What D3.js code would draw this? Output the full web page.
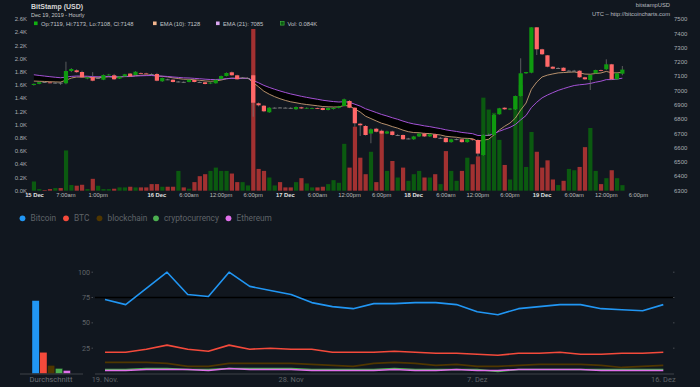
<!DOCTYPE html>
<html><head><meta charset="utf-8">
<script src="https://cdn.jsdelivr.net/npm/d3@7"></script>
<style>html,body{margin:0;padding:0;background:#11171f;} svg{display:block}</style>
</head><body>
<svg id="c" width="700" height="387"></svg>
<script>
// ---------- candle data (hourly, first candle = 15 Dec 01:00 UTC) ----------
const firstHour = 1;
const opens  = [7040,7048,7060,7058,7055,7056,7052,7138,7143,7131,7085,7096,7088,7077,7110,7108,7085,7100,7120,7110,7124,7121,7117,7117,7066,7079,7077,7062,7062,7061,7075,7060,7059,7050,7052,7082,7103,7129,7108,7090,7087,7108,6912,6895,6849,6879,6882,6881,6880,6870,6884,6876,6876,6879,6879,6865,6872,6880,6893,6928,6881,6769,6753,6700,6734,6720,6700,6715,6690,6690,6664,6660,6680,6700,6680,6695,6670,6670,6640,6660,6660,6640,6660,6655,6550,6690,6690,6835,6881,6868,6870,6963,7122,7126,7444,7290,7248,7168,7158,7161,7140,7140,7140,7094,7075,7122,7145,7150,7185,7080,7119];
const highs  = [7050,7062,7064,7060,7060,7062,7203,7158,7150,7140,7098,7130,7094,7114,7118,7118,7102,7118,7124,7136,7128,7126,7122,7125,7092,7084,7080,7068,7065,7080,7080,7064,7062,7060,7080,7106,7128,7134,7112,7096,7092,7112,6918,6900,6885,6884,6886,6885,6884,6890,6888,6884,6882,6882,6884,6882,6884,6894,6945,6935,6885,6775,6760,6736,6740,6728,6720,6720,6696,6694,6670,6684,6704,6706,6698,6700,6676,6674,6664,6666,6664,6664,6662,6660,6694,6700,6836,6880,6884,6878,6966,7227,7132,7444,7444,7294,7250,7172,7164,7164,7146,7146,7144,7098,7112,7147,7148,7220,7188,7124,7173];
const lows   = [7036,7045,7055,7052,7050,7040,7045,7130,7125,7090,7080,7066,7082,7074,7106,7076,7082,7096,7098,7108,7118,7116,7112,7066,7062,7074,7058,7058,7056,7058,7058,7055,7044,7046,7050,7080,7100,7105,7078,7085,7083,6818,6890,6850,6845,6876,6878,6877,6876,6866,6872,6872,6872,6872,6862,6862,6868,6876,6890,6878,6748,6683,6686,6632,6708,6696,6696,6686,6684,6656,6660,6656,6676,6676,6676,6666,6664,6636,6636,6654,6636,6636,6650,6540,6546,6686,6686,6832,6866,6864,6866,6960,7118,7122,7250,7250,7164,7150,7154,7136,7136,7136,7090,7076,7005,7118,7136,7146,7078,7078,7108];
const closes = [7048,7060,7058,7055,7056,7054,7138,7152,7130,7094,7094,7070,7090,7110,7113,7080,7100,7115,7100,7133,7121,7117,7115,7070,7089,7077,7061,7064,7060,7077,7061,7059,7047,7057,7077,7103,7124,7108,7080,7092,7089,6916,6898,6856,6881,6881,6880,6879,6878,6886,6876,6880,6879,6875,6865,6879,6880,6890,6940,6881,6772,6758,6690,6730,6713,6700,6715,6690,6690,6660,6665,6680,6700,6680,6695,6670,6670,6640,6660,6660,6640,6660,6655,6560,6690,6690,6830,6877,6870,6875,6963,7122,7131,7444,7290,7255,7168,7154,7158,7138,7140,7140,7094,7080,7110,7145,7140,7185,7080,7122,7148];
const volumes= [0.14,0.025,0.01,0.025,0.04,0.04,0.61,0.086,0.076,0.09,0.025,0.18,0.075,0.025,0.025,0.03,0.05,0.05,0.06,0.05,0.05,0.05,0.1,0.1,0.06,0.06,0.06,0.3,0.05,0.03,0.13,0.22,0.25,0.3,0.35,0.3,0.3,0.26,0.13,0.13,0.08,2.45,0.33,0.3,0.2,0.08,0.13,0.05,0.05,0.13,0.19,0.11,0.05,0.05,0.06,0.1,0.16,0.12,0.71,0.35,0.97,0.5,0.25,0.59,0.13,0.9,0.3,0.45,0.2,0.35,0.15,0.25,0.3,0.2,0.2,0.25,0.1,0.6,0.3,0.15,0.3,0.5,0.4,0.52,1.41,1.23,1.18,0.77,0.39,0.17,1.43,1.6,0.36,0.89,0.59,0.35,0.46,0.17,0.086,0.15,0.33,0.31,0.36,0.66,0.95,0.3,0.1,0.19,0.31,0.19,0.084];
const ema10Seed = 7072, ema21Seed = 7118;
const emaLegend = [7128, 7085];
const priceTicks = [6300,6400,6500,6600,6700,6800,6900,7000,7100,7200,7300,7400,7500];
const volTicks = [0,0.2,0.4,0.6,0.8,1.0,1.2,1.4,1.6,1.8,2.0,2.2,2.4,2.6];
const timeTicks = [[0,"15 Dec",1],[7,"7:00am",0],[13,"1:00pm",0],[24,"16 Dec",1],[30,"6:00am",0],[36,"12:00pm",0],[42,"6:00pm",0],[48,"17 Dec",1],[54,"6:00am",0],[60,"12:00pm",0],[66,"6:00pm",0],[72,"18 Dec",1],[78,"6:00am",0],[84,"12:00pm",0],[90,"6:00pm",0],[96,"19 Dec",1],[102,"6:00am",0],[108,"12:00pm",0],[114,"6:00pm",0]];

// ---------- Google-Trends data ----------
const trendStart = "2019-11-19";
const seriesNames = ["Bitcoin","BTC","blockchain","cryptocurrency","Ethereum"];
const seriesColors = ["#2196f3","#f44a3b","#4f3600","#4caf50","#e070ea"];
const bitcoin = [73,68,84,100,78,76,100,86,82,78,70,66,64,69,69,70,70,68,61,58,64,66,68,68,64,63,62,68];
const btc = [21,21,24,28,24,22,28,24,25,24,24,21,21,21,22,21,20,20,19,18,20,20,21,19,19,20,20,21];
const blockchain = [11,11,11,10,7,7,10,10,10,10,9,8,7,10,11,10,8,9,7,7,8,9,9,9,8,6,7,8];
const cryptocurrency = [4,4,5,5,4,4,5,5,5,5,4,4,4,4,5,4,4,4,4,2,4,4,4,4,4,4,4,4];
const ethereum = [3,3,4,4,4,3,5,4,4,4,3,3,3,3,4,3,3,4,3,3,4,4,4,4,3,3,3,3];
const averages = [72,21,8,5,3];
const trendTicks = [25,50,75,100];
const trendDateTicks = [["2019-11-19","19. Nov."],["2019-11-28","28. Nov"],["2019-12-07","7. Dez"],["2019-12-16","16. Dez"]];

const svg = d3.select("#c");
svg.append("rect").attr("width",700).attr("height",387).attr("fill","#11171f");
const F = "'Liberation Sans', Arial, sans-serif";

// ---------- top chart ----------
const x = d3.scaleLinear().domain([0,114]).range([28.5, 28.5+114*5.35]);
const yP = d3.scaleLinear().domain([6300,7500]).range([190.7,19.3]);
const yV = d3.scaleLinear().domain([0,2.6]).range([190.7,19.1]);
const candles = opens.map((o,i)=>({h:firstHour+i,o,h2:highs[i],l:lows[i],c:closes[i],v:volumes[i]}));
// EMA (derived from closes)
let e10=ema10Seed,e21=ema21Seed;
candles.forEach(d=>{e10=e10+(d.c-e10)*2/11; e21=e21+(d.c-e21)*2/22; d.e10=e10; d.e21=e21;});

const gTop = svg.append("g");
gTop.selectAll("rect.vol").data(candles).join("rect")
  .attr("x",d=>x(d.h)-2).attr("width",4.2)
  .attr("y",d=>yV(d.v)).attr("height",d=>yV(0)-yV(d.v))
  .attr("fill",d=>d.c>=d.o?"#0b5a10":"#a23131");
gTop.append("path").datum(candles)
  .attr("d",d3.area().x(d=>x(d.h)).y0(d=>yP(d.e10)).y1(d=>yP(d.e10<d.e21?d.e21:d.e10)))
  .attr("fill","#000").attr("opacity",0.9);
gTop.append("path").datum(candles).attr("fill","none").attr("stroke","#c79d74").attr("stroke-width",0.9)
  .attr("d",d3.line().x(d=>x(d.h)).y(d=>yP(d.e10)));
gTop.append("path").datum(candles).attr("fill","none").attr("stroke","#a452d6").attr("stroke-width",1)
  .attr("d",d3.line().x(d=>x(d.h)).y(d=>yP(d.e21)));
gTop.selectAll("line.wick").data(candles).join("line")
  .attr("x1",d=>x(d.h)).attr("x2",d=>x(d.h))
  .attr("y1",d=>yP(d.h2)).attr("y2",d=>yP(d.l))
  .attr("stroke","#7a7a7a").attr("stroke-width",0.7);
gTop.selectAll("rect.body").data(candles).join("rect")
  .attr("x",d=>x(d.h)-2.1).attr("width",4.2)
  .attr("y",d=>yP(Math.max(d.o,d.c)))
  .attr("height",d=>Math.max(0.8,Math.abs(yP(d.o)-yP(d.c))))
  .attr("fill",d=>Math.abs(d.o-d.c)<3?"#8a8a8a":(d.c>=d.o?"#0f9a0f":"#ff6868"));

gTop.selectAll("text.vt").data(volTicks).join("text")
  .attr("x",27).attr("y",d=>yV(d)+2).attr("text-anchor","end")
  .attr("font-family",F).attr("font-size",6).attr("fill","#a9adb2")
  .text(d=>d.toFixed(1)+"K");
gTop.selectAll("text.pt").data(priceTicks).join("text")
  .attr("x",674).attr("y",d=>yP(d)+2).attr("text-anchor","start")
  .attr("font-family",F).attr("font-size",6).attr("fill","#a9adb2")
  .text(d=>d);
gTop.selectAll("text.tt").data(timeTicks).join("text")
  .attr("x",d=>Math.max(x(d[0]),34.5)).attr("y",197).attr("text-anchor","middle")
  .attr("font-family",F).attr("font-size",5.8).attr("font-weight",d=>d[2]?"bold":"normal")
  .attr("fill",d=>d[2]?"#e0e0e0":"#bbbbbb").text(d=>d[1]);

const last = candles[candles.length-1];
gTop.append("text").attr("x",31).attr("y",9).attr("font-family",F).attr("font-size",7).attr("font-weight","bold").attr("fill","#d5d5d5").text("BitStamp (USD)");
gTop.append("text").attr("x",31).attr("y",17).attr("font-family",F).attr("font-size",5.5).attr("fill","#c8c8c8").text("Dec 19, 2019 - Hourly");
const leg = [
  {x:34, fill:"#11b011", stroke:"none", t:`Op:${last.o}, Hi:${last.h2}, Lo:${last.l}, Cl:${last.c}`},
  {x:153, fill:"#f2b58e", stroke:"none", t:`EMA (10): ${emaLegend[0]}`},
  {x:216, fill:"#dba6f0", stroke:"none", t:`EMA (21): ${emaLegend[1]}`},
  {x:280.5, fill:"#0b5a10", stroke:"#3fbf3f", t:`Vol: ${last.v.toFixed(3)}K`}
];
leg.forEach(l=>{
  gTop.append("rect").attr("x",l.x).attr("y",21.5).attr("width",3.6).attr("height",3.6).attr("fill",l.fill).attr("stroke",l.stroke).attr("stroke-width",0.6);
  gTop.append("text").attr("x",l.x+7).attr("y",25.5).attr("font-family",F).attr("font-size",5.8).attr("fill","#c0c4c8").text(l.t);
});
gTop.append("text").attr("x",670).attr("y",7).attr("text-anchor","end").attr("font-family",F).attr("font-size",5.8).attr("fill","#b8bcc0").text("bitstampUSD");
gTop.append("text").attr("x",670).attr("y",16).attr("text-anchor","end").attr("font-family",F).attr("font-size",5.8).attr("fill","#b8bcc0").text("UTC – http://bitcoincharts.com");

// ---------- bottom: legend ----------
const G = "Roboto, 'Liberation Sans', sans-serif";
const legX = [22.5,66,99.5,156,228.5];
seriesNames.forEach((n,i)=>{
  svg.append("circle").attr("cx",legX[i]).attr("cy",218.3).attr("r",2.9).attr("fill",seriesColors[i]);
  svg.append("text").attr("x",legX[i]+8).attr("y",221.2).attr("font-family",G).attr("font-size",8.3).attr("fill","#5f6368").text(n);
});

// ---------- bottom: average bars ----------
const yT = d3.scaleLinear().domain([0,100]).range([373.5,272.2]);
const xb = d3.scaleBand().domain(seriesNames).range([32,71]).padding(0);
svg.selectAll("rect.avg").data(averages).join("rect")
  .attr("x",(d,i)=>xb(seriesNames[i])).attr("width",xb.bandwidth()-0.6)
  .attr("y",d=>yT(d)).attr("height",d=>yT(0)-yT(d))
  .attr("fill",(d,i)=>seriesColors[i]).attr("stroke","#11171f").attr("stroke-width",0.4);
svg.append("line").attr("x1",20).attr("x2",83).attr("y1",374).attr("y2",374).attr("stroke","#4a4e54").attr("stroke-width",0.8);
svg.append("text").attr("x",51).attr("y",381.5).attr("text-anchor","middle").attr("font-family",G).attr("font-size",7.6).attr("fill","#6a6e74").text("Durchschnitt");

// ---------- bottom: trend lines ----------
const parse = d3.utcParse("%Y-%m-%d");
const t0 = parse(trendStart);
const dates = bitcoin.map((_,i)=>d3.utcDay.offset(t0,i));
const xt = d3.scaleUtc().domain([t0, parse("2019-12-16")]).range([105,663.3]);
svg.append("line").attr("x1",95).attr("x2",674).attr("y1",374).attr("y2",374).attr("stroke","#4a4e54").attr("stroke-width",0.8);
svg.append("line").attr("x1",95).attr("x2",674).attr("y1",yT(75)).attr("y2",yT(75)).attr("stroke","#000").attr("stroke-width",1.4);
trendTicks.forEach(t=>{
  svg.append("text").attr("x",90).attr("y",yT(t)+2.5).attr("text-anchor","end").attr("font-family",G).attr("font-size",7.2).attr("fill","#5f6368").text(t);
  svg.append("line").attr("x1",91.5).attr("x2",93).attr("y1",yT(t)).attr("y2",yT(t)).attr("stroke","#5f6368").attr("stroke-width",0.7);
  svg.append("line").attr("x1",673).attr("x2",674.5).attr("y1",yT(t)).attr("y2",yT(t)).attr("stroke","#5f6368").attr("stroke-width",0.7);
});
trendDateTicks.forEach(([d,l])=>{
  svg.append("text").attr("x",xt(parse(d))).attr("y",382).attr("text-anchor","middle").attr("font-family",G).attr("font-size",7.4).attr("fill","#5f6368").text(l);
});
const allSeries = [bitcoin,btc,blockchain,cryptocurrency,ethereum];
const order = [2,3,4,1,0];
order.forEach(k=>{
  svg.append("path").datum(allSeries[k]).attr("fill","none").attr("stroke",seriesColors[k]).attr("stroke-width",1.6).attr("stroke-linejoin","round")
    .attr("d",d3.line().x((d,i)=>xt(dates[i])).y(d=>yT(d)));
});
</script>
</body></html>
